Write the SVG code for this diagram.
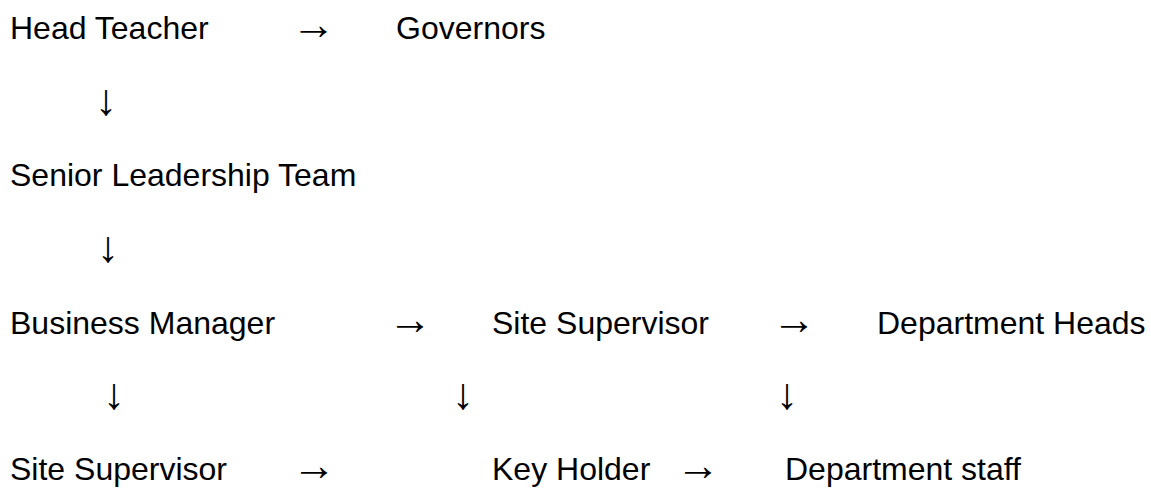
<svg xmlns="http://www.w3.org/2000/svg" width="1151" height="489" viewBox="0 0 1151 489">
<style>
text{font-family:"Liberation Sans",Arial,sans-serif;font-size:32px;fill:#000}
#connectors text{font-family:"Liberation Serif","Times New Roman",serif;font-size:44px;text-anchor:middle}
</style>
<rect width="1151" height="489" fill="#fff"/>
<g id="n-head"><text x="10" y="39">Head Teacher</text></g>
<g id="n-governors"><text x="396" y="39">Governors</text></g>
<g id="n-slt"><text x="10" y="186">Senior Leadership Team</text></g>
<g id="n-business"><text x="10" y="334">Business Manager</text></g>
<g id="n-site1"><text x="492" y="334">Site Supervisor</text></g>
<g id="n-depheads"><text x="877" y="334">Department Heads</text></g>
<g id="n-site2"><text x="10" y="480">Site Supervisor</text></g>
<g id="n-key"><text x="492" y="480">Key Holder</text></g>
<g id="n-depstaff"><text x="785" y="480">Department staff</text></g>
<g id="connectors">
<text x="313.5" y="39">→</text>
<text x="106" y="115">↓</text>
<text x="108" y="262">↓</text>
<text x="410" y="334">→</text>
<text x="794" y="334">→</text>
<text x="114" y="409">↓</text>
<text x="463" y="409">↓</text>
<text x="787" y="409">↓</text>
<text x="314" y="480">→</text>
<text x="698" y="480">→</text>
</g>
</svg>
